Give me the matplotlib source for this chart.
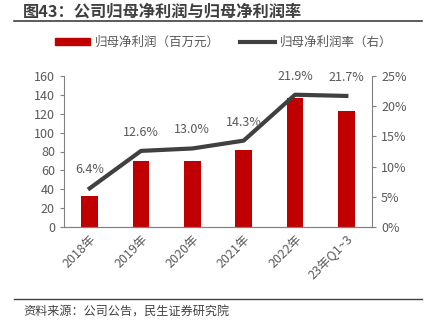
import numpy as np
import matplotlib.pyplot as plt
from matplotlib.lines import Line2D
from matplotlib.patches import Patch

plt.rcParams['font.family'] = ['Noto Sans CJK SC', 'DejaVu Sans']

# data
years = ["2018年", "2019年", "2020年", "2021年", "2022年", "23年Q1~3"]
profit = [33, 70, 70, 82, 137, 123]          # 百万元
margin = [6.4, 12.6, 13.0, 14.3, 21.9, 21.7]  # %

RED = "#C00000"
GREY = "#404040"
TXT = "#595959"

fig = plt.figure(figsize=(4.29, 3.28), dpi=100)
W, H = 429, 328
ax = fig.add_axes([64 / W, 1 - 227 / H, (372 - 64) / W, (227 - 76) / H])
ax2 = ax.twinx()

x = np.arange(len(years))
ax.bar(x, profit, width=0.33, color=RED, zorder=2)
ax.set_ylim(0, 160)
ax.set_yticks(range(0, 161, 20))
ax.set_xlim(-0.5, len(years) - 0.5)
ax.set_xticks(x)
ax.set_xticklabels(years, rotation=45, ha="right", rotation_mode="anchor")

ax2.plot(x, margin, color=GREY, lw=3, zorder=3)
ax2.set_ylim(0, 25)
ax2.set_yticks(range(0, 26, 5))
ax2.set_yticklabels([f"{v}%" for v in range(0, 26, 5)])
for xi, m in zip(x, margin):
    ax2.text(xi, m + 2.0, f"{m:.1f}%", ha="center", va="bottom",
             fontsize=9, color=TXT)

for a in (ax, ax2):
    a.spines["top"].set_visible(False)
    for s in ("left", "right", "bottom"):
        a.spines[s].set_color("#808080")
    a.tick_params(labelsize=9, colors=TXT, length=3, color="#808080")
ax2.spines["left"].set_visible(False)
ax.spines["right"].set_visible(False)
ax.tick_params(axis="x", length=0, pad=4)

# legend
handles = [Patch(color=RED), Line2D([], [], color=GREY, lw=3)]
fig.legend(handles, ["归母净利润（百万元）", "归母净利润率（右）"],
           loc="center", bbox_to_anchor=(224 / W, 1 - 42 / H), ncol=2,
           frameon=False, fontsize=9, labelcolor=TXT,
           handlelength=2.8, handleheight=0.5, handletextpad=0.4,
           columnspacing=1.6)

# title and footer
fig.text(23 / W, 1 - 12 / H, "图43：公司归母净利润与归母净利润率", fontsize=11.7,
         fontweight="bold", color="#404040", va="center", ha="left")
fig.add_artist(Line2D([14 / W, 422 / W], [1 - 20.5 / H, 1 - 20.5 / H],
                      color="#404040", lw=1.2))
fig.add_artist(Line2D([14 / W, 422 / W], [1 - 299 / H, 1 - 299 / H],
                      color="#404040", lw=1.0))
fig.text(23 / W, 1 - 312 / H, "资料来源：公司公告，民生证券研究院", fontsize=8.7,
         color="#404040", va="center", ha="left")

fig.savefig("out.png", dpi=100)
